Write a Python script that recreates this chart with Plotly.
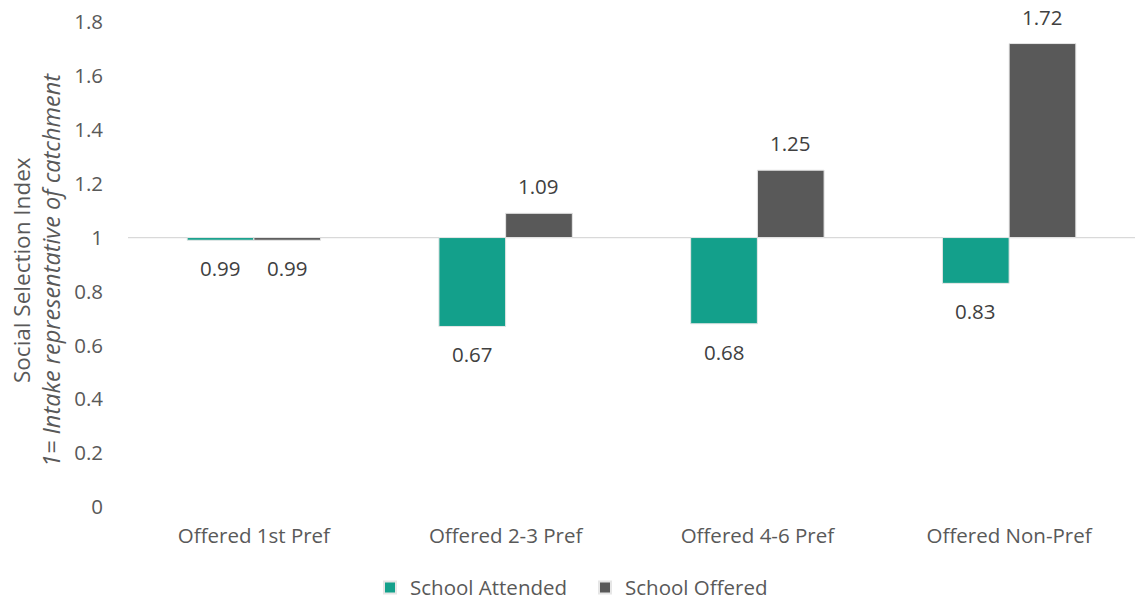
import plotly.graph_objects as go

categories = ["Offered 1st Pref", "Offered 2-3 Pref", "Offered 4-6 Pref", "Offered Non-Pref"]
attended = [0.99, 0.67, 0.68, 0.83]
offered = [0.99, 1.09, 1.25, 1.72]
series_names = ["School Attended", "School Offered"]
series_colors = ["#13A08B", "#595959"]
baseline = 1.0
y_ticks = [0, 0.2, 0.4, 0.6, 0.8, 1, 1.2, 1.4, 1.6, 1.8]
y_title_lines = ["Social Selection Index", "<i>1= Intake representative of catchment</i>"]

FONT = "'Open Sans', 'Noto Sans', sans-serif"
TEXT_COLOR = "#595959"
FS = 20.5
BARGAP = 0.47
W, H = 1135, 603
ML, MR, MT, MB = 128, 0, 22, 96

fig = go.Figure()
for name, vals, color in zip(series_names, [attended, offered], series_colors):
    fig.add_trace(go.Bar(
        name=name,
        x=categories,
        y=[v - baseline for v in vals],
        base=baseline,
        marker=dict(color=color, line=dict(color="#e6e6e6", width=1)),
        customdata=vals,
        hovertemplate="%{x}: %{customdata}<extra>" + name + "</extra>",
    ))

# value labels beyond the end of each bar
half = (1 - BARGAP) / 4
for i, vals in enumerate([attended, offered]):
    off = -half if i == 0 else half
    for j, v in enumerate(vals):
        above = v > baseline
        fig.add_annotation(
            x=j + off, y=v, xref="x", yref="y",
            text=f"{v:g}", showarrow=False,
            yshift=27 if above else -28,
            font=dict(family=FONT, size=FS, color="#404040"),
        )

fig.add_shape(type="line", xref="paper", yref="y", x0=0, x1=1, y0=baseline, y1=baseline,
              line=dict(color="#d9d9d9", width=1.3), layer="below")

# two-line rotated y-axis title
plot_w = W - ML - MR
plot_h = H - MT - MB
for text, xc, size in zip(y_title_lines, [21, 51], [22.5, 23.5]):
    fig.add_annotation(
        x=(xc - ML) / plot_w, y=(H - MB - 270) / plot_h, xref="paper", yref="paper",
        xanchor="center", yanchor="middle", textangle=-90,
        text=text, showarrow=False,
        font=dict(family=FONT, size=size, color=TEXT_COLOR),
    )

fig.update_layout(
    width=W, height=H,
    margin=dict(l=ML, r=MR, t=MT, b=MB, autoexpand=False),
    plot_bgcolor="white", paper_bgcolor="white",
    barmode="group", bargap=BARGAP, bargroupgap=0,
    font=dict(family=FONT, size=FS, color=TEXT_COLOR),
    showlegend=True,
    legend=dict(orientation="h", x=(370 - ML) / plot_w, xanchor="left", y=-0.125, yanchor="top",
                font=dict(size=FS, color=TEXT_COLOR), traceorder="normal",
                itemsizing="constant", itemwidth=30, entrywidth=170),
    xaxis=dict(type="category", showline=False, showgrid=False, ticks="",
               automargin=False, ticklabelstandoff=14,
               tickfont=dict(size=FS, color=TEXT_COLOR)),
    yaxis=dict(range=[0, 1.8], tickvals=y_ticks, ticktext=[f"{t:g}" for t in y_ticks],
               showgrid=False, zeroline=False, showline=False, ticks="",
               automargin=False, ticklabelstandoff=24,
               tickfont=dict(size=FS, color=TEXT_COLOR)),
)

fig.write_html("out.html")
